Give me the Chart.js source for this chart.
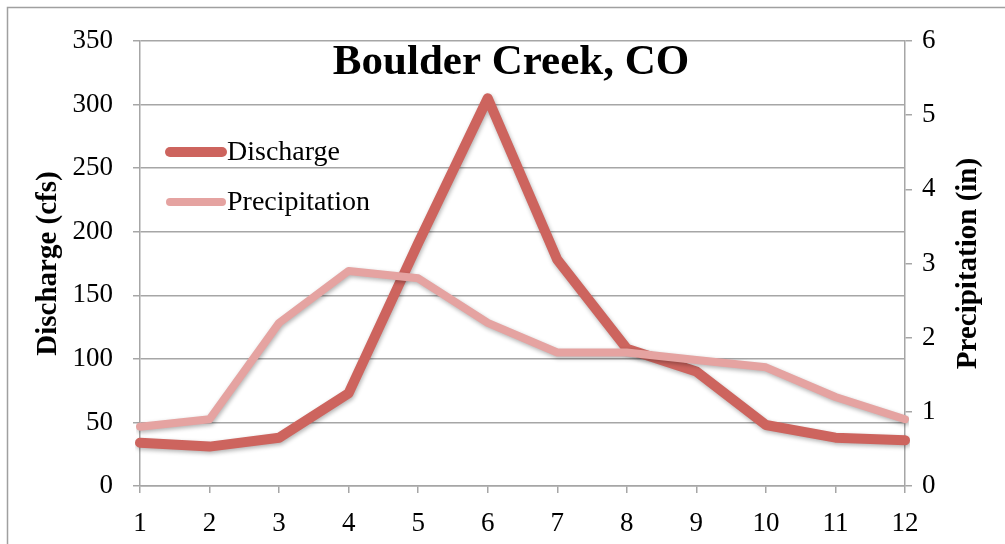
<!DOCTYPE html>
<html>
<head>
<meta charset="utf-8">
<script src="https://cdn.jsdelivr.net/npm/chart.js@4"></script>
<style>
  html, body { margin: 0; padding: 0; background: #fff; }
  #wrap { width: 1005px; height: 544px; }
</style>
</head>
<body>
<div id="wrap"><canvas id="creekChart" width="1005" height="544"></canvas></div>
<script>
const months = ["1", "2", "3", "4", "5", "6", "7", "8", "9", "10", "11", "12"];
const discharge = [34, 31, 38, 73, 191, 305, 178, 108, 90, 48, 38, 36];
const precipitation = [0.8, 0.9, 2.2, 2.9, 2.8, 2.2, 1.8, 1.8, 1.7, 1.6, 1.2, 0.9];

const chartTitle = "Boulder Creek, CO";
const leftAxisTitle = "Discharge (cfs)";
const rightAxisTitle = "Precipitation (in)";
const fontFamily = "'Liberation Serif', 'DejaVu Serif', serif";
const gridColor = "#a6a6a6";

// frame, title, axis titles and legend drawn straight on the canvas
const decorations = {
    id: "decorations",
    beforeDraw(chart) {
        let ctx = chart.ctx;
        ctx.save();
        ctx.strokeStyle = "#a0a0a0";
        ctx.lineWidth = 1.5;
        ctx.strokeRect(7.5, 7.5, 1010, 550);
        ctx.restore();
    },
    afterDraw(chart) {
        let ctx = chart.ctx;
        let area = chart.chartArea;
        let midY = (area.top + area.bottom) / 2;
        ctx.save();
        ctx.fillStyle = "#000";
        ctx.font = "bold 43px " + fontFamily;
        ctx.textAlign = "center";
        ctx.textBaseline = "middle";
        ctx.fillText(chartTitle, 511, 63);

        // axis titles, both read bottom to top
        ctx.font = "bold 29px " + fontFamily;
        [[leftAxisTitle, 49], [rightAxisTitle, 969]].forEach(([text, x]) => {
            ctx.save();
            ctx.translate(x, midY);
            ctx.rotate(-Math.PI / 2);
            ctx.fillText(text, 0, 0);
            ctx.restore();
        });

        ctx.font = "28px " + fontFamily;
        ctx.textAlign = "left";
        chart.data.datasets.forEach((ds, i) => {
            let y = 152 + i * 50;
            ctx.strokeStyle = ds.borderColor;
            ctx.lineWidth = ds.borderWidth;
            ctx.lineCap = "round";
            ctx.beginPath();
            ctx.moveTo(170, y);
            ctx.lineTo(222, y);
            ctx.stroke();
            ctx.fillStyle = "#000";
            ctx.fillText(ds.label, 227, y + 1);
        });
        ctx.restore();
    }
};

// soft drop shadow under the lines
const lineShadow = {
    id: "lineShadow",
    beforeDatasetDraw(chart) {
        let ctx = chart.ctx;
        ctx.save();
        ctx.shadowColor = "rgba(0,0,0,0.3)";
        ctx.shadowBlur = 4;
        ctx.shadowOffsetX = 1;
        ctx.shadowOffsetY = 2;
    },
    afterDatasetDraw(chart) {
        chart.ctx.restore();
    }
};

new Chart(document.getElementById("creekChart"), {
    type: "line",
    data: {
        labels: months,
        datasets: [
            {
                label: "Discharge",
                data: discharge,
                yAxisID: "y",
                borderColor: "#cd645e",
                backgroundColor: "#cd645e",
                borderWidth: 10,
                pointRadius: 0,
                borderJoinStyle: "round",
                borderCapStyle: "round",
                tension: 0,
                order: 2
            },
            {
                label: "Precipitation",
                data: precipitation,
                yAxisID: "y1",
                borderColor: "#e5a3a1",
                backgroundColor: "#e5a3a1",
                borderWidth: 8,
                pointRadius: 0,
                borderJoinStyle: "round",
                borderCapStyle: "round",
                tension: 0,
                order: 1
            }
        ]
    },
    options: {
        responsive: false,
        animation: false,
        layout: { padding: { top: 41, left: 0, right: 0, bottom: 0 } },
        plugins: {
            legend: { display: false },
            title: { display: false },
            tooltip: { enabled: false }
        },
        scales: {
            x: {
                type: "category",
                offset: false,
                afterFit: s => { s.height = 58; },
                grid: { display: true, drawOnChartArea: false, drawTicks: true, tickLength: 7, color: gridColor, lineWidth: 1.5 },
                border: { display: true, color: gridColor, width: 1.5 },
                ticks: { color: "#000", font: { family: fontFamily, size: 27 }, padding: 15, maxRotation: 0, autoSkip: false }
            },
            y: {
                position: "left",
                min: 0,
                max: 350,
                afterFit: s => { s.width = 140; },
                grid: { color: gridColor, lineWidth: 1.5, tickLength: 7 },
                border: { display: true, color: gridColor, width: 1.5 },
                ticks: { stepSize: 50, color: "#000", font: { family: fontFamily, size: 27 }, padding: 20 }
            },
            y1: {
                position: "right",
                min: 0,
                max: 6,
                afterFit: s => { s.width = 100; },
                grid: { drawOnChartArea: false, color: gridColor, lineWidth: 1.5, tickLength: 7 },
                border: { display: true, color: gridColor, width: 1.5 },
                ticks: { stepSize: 1, color: "#000", font: { family: fontFamily, size: 27 }, padding: 10 }
            }
        }
    },
    plugins: [decorations, lineShadow]
});
</script>
</body>
</html>
